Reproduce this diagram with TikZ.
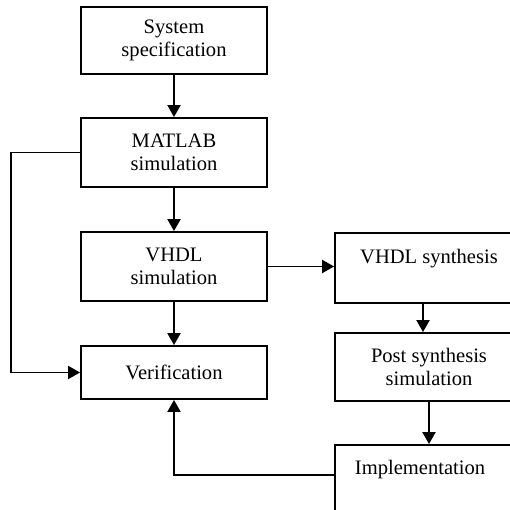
\documentclass[tikz,border=0pt]{standalone}
\usepackage{fontspec}
\setmainfont{Liberation Serif}
\usetikzlibrary{arrows.meta}

\tikzset{
  box/.style={draw, line width=1.1pt, align=center,
    font=\fontsize{11.7pt}{13.1pt}\selectfont},
  flow/.style={line width=1.1pt, -{Triangle[length=6.8pt,width=7.4pt]}}
}

\begin{document}
\begin{tikzpicture}[x=0.02cm, y=-0.02cm]
    % Page frame (the right column runs off the page)
    \useasboundingbox (0,0) rectangle (510,510);
    \clip (0,0) rectangle (510,510);

    % Left column
    \node[box, minimum width=3.72cm, minimum height=1.34cm] (spec) at (174,40.5) {System\\specification};
    \node[box, minimum width=3.72cm, minimum height=1.38cm] (matlab) at (174,152.5) {MATLAB\\simulation};
    \node[box, minimum width=3.72cm, minimum height=1.38cm] (vsim) at (174,266.5) {VHDL\\simulation};
    \node[box, minimum width=3.72cm, minimum height=1.06cm] (verif) at (174,372.5) {Verification};

    % Right column
    \node[box, minimum width=3.76cm, minimum height=1.4cm] (vsyn) at (429,268) {VHDL synthesis\\~};
    \node[box, minimum width=3.76cm, minimum height=1.36cm] (post) at (429,367) {Post synthesis\\simulation};
    \node[box, anchor=north west, align=left, text width=3.4cm, inner xsep=0.4cm, inner ysep=0pt,
      text height=0.6cm, text depth=1.4cm] (impl) at (334,444) {Implementation};

    % Arrows
    \draw[flow] (spec) -- (matlab);
    \draw[flow] (matlab) -- (vsim);
    \draw[flow] (vsim) -- (verif);
    \draw[flow] (vsim.east) -- (vsyn.west |- vsim.east);
    \draw[flow] ([xshift=-0.12cm]vsyn.south) -- ([xshift=-0.12cm]post.north);
    \draw[flow] (post.south) -- (post.south |- impl.north);

    % Feedback into verification
    \draw[flow] (matlab.west) -- ++(-69,0) |- (verif.west);
    \draw[flow] (impl.base west) -| (verif.south);
\end{tikzpicture}
\end{document}
